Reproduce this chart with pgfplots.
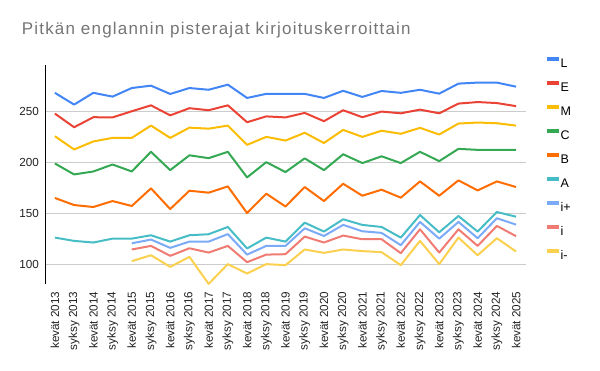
\documentclass[border=0pt]{standalone}
\usepackage{pgfplots}
\usepackage{pgfplotstable}
\pgfplotsset{compat=1.18}
\usepackage{fontspec}
\setmainfont{Liberation Sans}
\newfontfamily\titlefont[LetterSpace=7]{Liberation Sans}
\definecolor{cL}{HTML}{4285F4}
\definecolor{cE}{HTML}{EA4335}
\definecolor{cM}{HTML}{FBBC04}
\definecolor{cC}{HTML}{34A853}
\definecolor{cB}{HTML}{FF6D01}
\definecolor{cA}{HTML}{46BDC6}
\definecolor{cIp}{HTML}{7BAAF7}
\definecolor{cI}{HTML}{F07B72}
\definecolor{cIm}{HTML}{FCD04F}
\definecolor{titlegray}{HTML}{757575}
\definecolor{ticktext}{HTML}{222222}
\definecolor{gridgray}{HTML}{CCCCCC}

\pgfplotstableread{
x  L      E      M      C      B      A      ip     ii     im
0  268    247.7  225.6  199    165.3  126.6  nan    nan    nan
1  256.5  234.4  212.7  188.3  158.4  123.4  nan    nan    nan
2  268    244.2  220.5  191.2  156.5  121.8  nan    nan    nan
3  264.3  244    224    198    162.3  125.6  nan    nan    nan
4  272.7  250    224    191.2  157.5  125.6  121    115    103.6
5  275    255.8  236    210.4  174.7  128.9  124.7  118.5  109.4
6  266.9  246    224    192.5  154.5  122.7  116.6  108.8  98
7  272.7  253    234    207    172.4  128.9  122.7  116.2  107.8
8  271    251    233    204.2  170.5  129.9  122.7  112    81.4
9  276    255.8  236    210.4  176.6  137    130    118.5  100.7
10 263    239.3  217.2  185.4  150.6  116    110    102.6  91.5
11 267    245    225    200.3  169.5  126.6  118.5  110    100.7
12 267    244    221.4  190.6  157    122.7  118.5  110.4  99.7
13 267    248.4  229    204    176    141.2  135.7  127.6  115
14 263    240.3  219    192.5  162.3  132.5  128.2  121.8  111.7
15 270    251    231.8  208    179.2  144.5  139    128.6  115
16 264    244.2  225    199.4  167.5  139    132.8  125    113.4
17 269.8  249.7  231    206    173.4  137    131.2  125    112.4
18 268    248    228    199.4  165.6  126.6  119.2  111.4  99.7
19 271    251.6  233.8  210.4  181.5  148.7  141.9  134.7  123.4
20 267.2  248    227.3  201.3  167.5  131.8  125.6  112    100.7
21 277    257.5  238    213.3  182.5  147.7  141.9  134.7  126.6
22 278    259    239    212.3  172.7  132.5  126    118.5  109.4
23 278    258    238.3  212.3  181.5  151.6  145.5  138    126
24 274    255    236    212.3  176    147    139.3  128    113
}\data

\begin{document}
\begin{tikzpicture}[x=1pt,y=1pt]
\path[use as bounding box] (0,0) rectangle (600,371);
\node[anchor=base west, text=titlegray, font=\titlefont\fontsize{17}{20}\selectfont, inner sep=0pt] at (21.7,336.7) {Pitkän englannin pisterajat kirjoituskerroittain};
\begin{axis}[
  at={(45.3pt,86.7pt)}, anchor=south west,
  scale only axis, width=480.4pt, height=219.1pt,
  xmin=-0.5, xmax=24.5, ymin=81, ymax=295,
  axis x line*=bottom, axis y line*=left,
  x axis line style={draw=none},
  y axis line style={draw=black, line width=1pt},
  major tick length=0pt,
  ytick={100,150,200,250},
  ymajorgrids, grid style={gridgray, line width=0.8pt},
  xtick={0,...,24},
  xticklabels={kevät 2013,syksy 2013,kevät 2014,syksy 2014,kevät 2015,syksy 2015,kevät 2016,syksy 2016,kevät 2017,syksy 2017,kevät 2018,syksy 2018,kevät 2019,syksy 2019,kevät 2020,syksy 2020,kevät 2021,syksy 2021,kevät 2022,syksy 2022,kevät 2023,syksy 2023,kevät 2024,syksy 2024,kevät 2025},
  x tick label style={rotate=90, anchor=east, inner sep=0pt},
  xticklabel shift=7pt,
  y tick label style={inner sep=0pt},
  yticklabel shift=6.3pt,
  tick label style={font=\fontsize{11.7}{14}\selectfont, text=ticktext},
  /pgf/number format/assume math mode=true,
  every axis plot/.append style={line width=2pt, line join=round, mark=none},
  legend cell align=left,
  legend image code/.code={\draw[line width=4pt, #1] (0pt,4pt) -- (11.7pt,4pt);},
  legend style={draw=none, fill=none, at={(rel axis cs:1,1)}, anchor=north west,
    xshift=19.3pt, yshift=8.5pt, inner sep=0pt, outer sep=0pt, row sep=13.4pt,
    font=\fontsize{12.5}{15}\selectfont,
    nodes={inner sep=0pt, text height=9.3pt, text depth=0pt},
    /tikz/every even column/.append style={column sep=9pt}},
  clip=false,
]
\addplot[cL] table[x=x, y=L] {\data};
\addlegendentry{L}
\addplot[cE] table[x=x, y=E] {\data};
\addlegendentry{E}
\addplot[cM] table[x=x, y=M] {\data};
\addlegendentry{M}
\addplot[cC] table[x=x, y=C] {\data};
\addlegendentry{C}
\addplot[cB] table[x=x, y=B] {\data};
\addlegendentry{B}
\addplot[cA] table[x=x, y=A] {\data};
\addlegendentry{A}
\addplot[cIp] table[x=x, y=ip] {\data};
\addlegendentry{i+}
\addplot[cI] table[x=x, y=ii] {\data};
\addlegendentry{i}
\addplot[cIm] table[x=x, y=im] {\data};
\addlegendentry{i-}
\end{axis}
\end{tikzpicture}
\end{document}
